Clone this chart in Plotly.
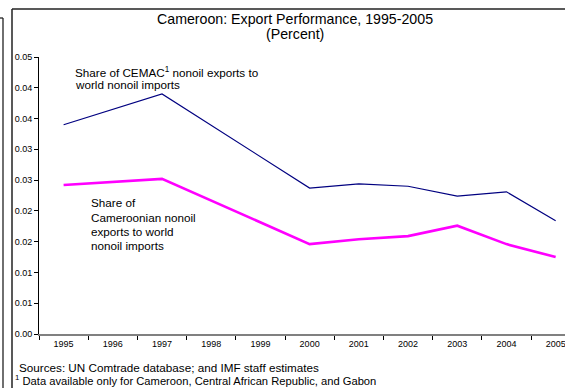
import plotly.graph_objects as go

years = ["1995", "1996", "1997", "1998", "1999", "2000", "2001", "2002", "2003", "2004", "2005"]
cemac_share = [0.0340, None, 0.0390, None, None, 0.0237, 0.0244, 0.0240, 0.0224, 0.0231, 0.0184]
cameroon_share = [0.0242, None, 0.0252, None, None, 0.0146, 0.0154, 0.0159, 0.0176, 0.0146, 0.0125]
ytick_vals = [0.0, 0.005, 0.010, 0.015, 0.020, 0.025, 0.030, 0.035, 0.040, 0.045]
ytick_text = ["0.00", "0.01", "0.01", "0.02", "0.02", "0.03", "0.03", "0.04", "0.04", "0.05"]

title_lines = ["Cameroon: Export Performance, 1995-2005", "(Percent)"]
cemac_label = ["Share of CEMAC<sup>1</sup> nonoil exports to", "world nonoil imports"]
cameroon_label = ["Share of", "Cameroonian nonoil", "exports to world", "nonoil imports"]
source_text = "Sources: UN Comtrade database; and IMF staff estimates"
footnote_text = "<sup>1</sup> Data available only for Cameroon, Central African Republic, and Gabon"

W, H = 565, 388
L, R, T, B = 39, 0, 57, 54
PW, PH = W - L - R, H - T - B

def px(x):
    return (x - L) / PW

def py(y):
    return (H - B - y) / PH

FONT = "Liberation Sans, Arial, sans-serif"

fig = go.Figure()
fig.add_trace(go.Scatter(x=years, y=cemac_share, mode="lines", connectgaps=True,
                         line=dict(color="#000080", width=1.2), showlegend=False))
fig.add_trace(go.Scatter(x=years, y=cameroon_share, mode="lines", connectgaps=True,
                         line=dict(color="#FF00FF", width=2.6), showlegend=False))

annotations = []
for txt, yc in zip(title_lines, [19, 34.5]):
    annotations.append(dict(text=txt, x=px(295), y=py(yc), xref="paper", yref="paper",
                            xanchor="center", yanchor="middle", showarrow=False,
                            font=dict(family=FONT, size=14.2, color="#000")))
for txt, yc in zip(cemac_label, [72, 84.5]):
    annotations.append(dict(text=txt, x=px(73), y=py(yc), xref="paper", yref="paper",
                            xanchor="left", yanchor="middle", showarrow=False,
                            font=dict(family=FONT, size=11.7, color="#000")))
for txt, yc in zip(cameroon_label, [202.5, 217, 231, 245.5]):
    annotations.append(dict(text=txt, x=px(89), y=py(yc), xref="paper", yref="paper",
                            xanchor="left", yanchor="middle", showarrow=False,
                            font=dict(family=FONT, size=11.7, color="#000")))
annotations.append(dict(text=source_text, x=px(17), y=py(367), xref="paper", yref="paper",
                        xanchor="left", yanchor="middle", showarrow=False,
                        font=dict(family=FONT, size=11.7, color="#000")))
annotations.append(dict(text=footnote_text, x=px(13), y=py(379.5), xref="paper", yref="paper",
                        xanchor="left", yanchor="middle", showarrow=False,
                        font=dict(family=FONT, size=11.2, color="#000")))

shapes = [
    dict(type="line", xref="paper", yref="paper", x0=px(12), x1=px(12), y0=py(9), y1=py(400),
         line=dict(color="#222", width=1.5)),
    dict(type="line", xref="paper", yref="paper", x0=px(12), x1=px(575), y0=py(9), y1=py(9),
         line=dict(color="#222", width=1.5)),
    dict(type="line", xref="paper", yref="paper", x0=px(3), x1=px(3), y0=py(18), y1=py(400),
         line=dict(color="#222", width=1.3)),
    dict(type="line", xref="paper", yref="paper", x0=px(-5), x1=px(3), y0=py(18), y1=py(18),
         line=dict(color="#222", width=1.3)),
]

fig.update_layout(
    width=W, height=H,
    margin=dict(l=L, r=R, t=T, b=B),
    paper_bgcolor="white", plot_bgcolor="white",
    font=dict(family=FONT, color="#000"),
    annotations=annotations, shapes=shapes,
    xaxis=dict(type="category", range=[-0.5, 10.19], showgrid=False, zeroline=False,
               showline=True, linecolor="#808080", linewidth=1.5,
               ticks="outside", tickson="boundaries", ticklen=4, tickcolor="#000", tickwidth=1,
               tickfont=dict(family=FONT, size=9, color="#000")),
    yaxis=dict(range=[0, 0.045], showgrid=False, zeroline=False,
               showline=True, linecolor="#000", linewidth=1,
               ticks="outside", ticklen=4, tickcolor="#000", tickwidth=1,
               tickvals=ytick_vals, ticktext=ytick_text,
               tickfont=dict(family=FONT, size=9, color="#000")),
)

fig.write_html("out.html")
